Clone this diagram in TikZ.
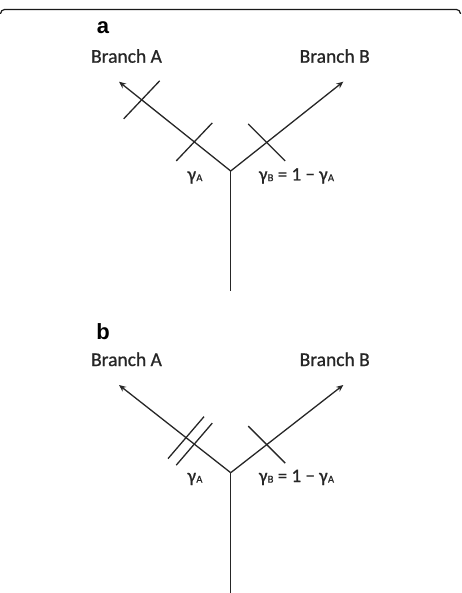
\documentclass[tikz,border=0pt]{standalone}
\usepackage{fontspec}
\setmainfont{Carlito}[FakeBold=0.8]
\newfontfamily\panelfont{Liberation Sans}
\usetikzlibrary{arrows.meta,calc}
\newcommand{\gsubx}[1]{γ\kern0.3pt{\fontsize{10.5}{10}\selectfont\raisebox{-0.6pt}{#1}}}
\tikzset{
  branchline/.style={draw=black!85, line width=1.3pt},
  arrowbr/.style={branchline, -{Stealth[length=7pt,width=6pt]}},
  tickline/.style={draw=black!85, line width=1.3pt},
  brlabel/.style={font=\fontsize{19.5}{20}\selectfont, text=black!85, anchor=base, inner sep=0pt},
  glabel/.style={font=\fontsize{19}{19}\selectfont, text=black!85, anchor=base, inner sep=0pt},
  panellabel/.style={font=\panelfont\bfseries\fontsize{22}{22}\selectfont, anchor=base, inner sep=0pt},
}
\begin{document}
\begin{tikzpicture}[x=1pt,y=-1pt]
\useasboundingbox (0,0) rectangle (461,593);
% frame top
\draw[line width=1.2pt, black!90, rounded corners=4pt] (0.6,14) -- (0.6,9.5) -- (460.4,9.5) -- (460.4,14);

% panel a
\begin{scope}
\node[panellabel] (pa) at (103,33.3) {a};
\node[brlabel] (la) at (126.5,62.7) {Branch A};
\node[brlabel] (lb) at (334.7,62.7) {Branch B};
\coordinate (J) at (230.7,171);
\coordinate (TA) at (119,81.7);
\coordinate (TB) at (343.3,81.7);
\coordinate (S) at (230.7,291);
\draw[branchline] (J) -- (S);
\draw[arrowbr] (J) -- (TA);
\draw[arrowbr] (J) -- (TB);
\coordinate (k1) at ($(J)!0.797!(TA)$);
\coordinate (k2) at ($(J)!0.326!(TA)$);
\coordinate (k3) at ($(J)!0.32!(TB)$);
\draw[tickline] ($(k1)+(-18,19)$) -- ($(k1)+(18,-19)$);
\draw[tickline] ($(k2)+(-18,19)$) -- ($(k2)+(18,-19)$);
\draw[tickline] ($(k3)+(-18.5,-18.5)$) -- ($(k3)+(18.5,18.5)$);
\node[glabel] (ga) at (195,180.5) {\gsubx{A}};
\node[glabel] (gb) at (296.5,180.5) {\gsubx{B} = 1 − \gsubx{A}};
\end{scope}

% panel b
\begin{scope}[shift={(0,302)}]
\node[panellabel] (pb) at (103,37.3) {b};
\node[brlabel] (la2) at (126.5,64) {Branch A};
\node[brlabel] (lb2) at (334.7,64) {Branch B};
\coordinate (J2) at (230.7,170.7);
\coordinate (TA2) at (119,83);
\coordinate (TB2) at (343.3,83);
\coordinate (S2) at (230.7,292);
\draw[branchline] (J2) -- (S2);
\draw[arrowbr] (J2) -- (TA2);
\draw[arrowbr] (J2) -- (TB2);
\coordinate (m1) at ($(J2)!0.40!(TA2)$);
\coordinate (m2) at ($(J2)!0.326!(TA2)$);
\coordinate (m3) at ($(J2)!0.32!(TB2)$);
\draw[tickline] ($(m1)+(-18,21)$) -- ($(m1)+(18,-21)$);
\draw[tickline] ($(m2)+(-18,21)$) -- ($(m2)+(18,-21)$);
\draw[tickline] ($(m3)+(-18.5,-18.5)$) -- ($(m3)+(18.5,18.5)$);
\node[glabel] (ga2) at (195,180) {\gsubx{A}};
\node[glabel] (gb2) at (296.5,180) {\gsubx{B} = 1 − \gsubx{A}};
\end{scope}
\end{tikzpicture}
\end{document}
